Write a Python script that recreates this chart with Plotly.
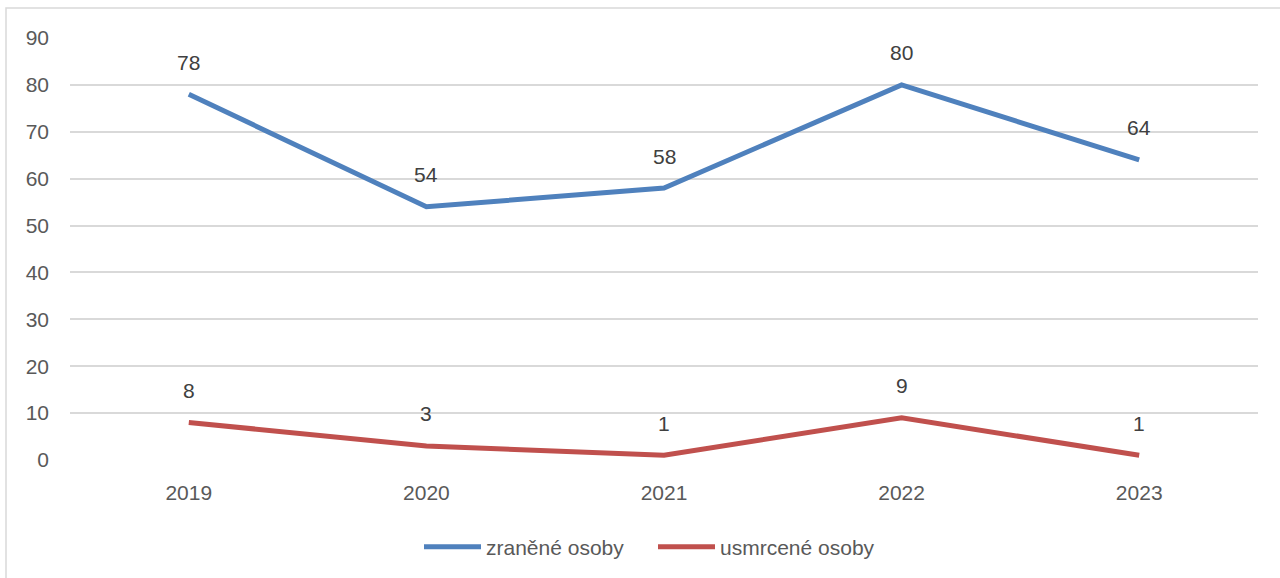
import plotly.graph_objects as go

years = ["2019", "2020", "2021", "2022", "2023"]
zranene = [78, 54, 58, 80, 64]
usmrcene = [8, 3, 1, 9, 1]
series_names = ["zraněné osoby", "usmrcené osoby"]
y_ticks = [0, 10, 20, 30, 40, 50, 60, 70, 80, 90]

BLUE = "#4F81BD"
RED = "#C0504D"
TXT = "#595959"
FONT = "Liberation Sans"
FS = 21

fig = go.Figure()
fig.add_trace(go.Scatter(x=years, y=zranene, mode="lines", name=series_names[0],
                         line=dict(color=BLUE, width=5)))
fig.add_trace(go.Scatter(x=years, y=usmrcene, mode="lines", name=series_names[1],
                         line=dict(color=RED, width=5)))

annotations = []
for series in (zranene, usmrcene):
    for i, v in enumerate(series):
        annotations.append(dict(x=i, xref="x", y=v, yref="y", text=str(v), showarrow=False,
                                yshift=32, xanchor="center", yanchor="middle",
                                font=dict(family=FONT, size=FS, color="#404040")))

L, R, T, B = 70, 22, 38, 117
W, H = 1280, 578
pw, ph = W - L - R, H - T - B

fig.update_layout(
    width=W, height=H,
    margin=dict(l=L, r=R, t=T, b=B),
    paper_bgcolor="white", plot_bgcolor="white",
    font=dict(family=FONT, size=FS, color=TXT),
    xaxis=dict(type="category", range=[-0.5, 4.5], showgrid=False, zeroline=False,
               showline=False, ticks="", ticklabelstandoff=18,
               tickfont=dict(family=FONT, size=FS, color=TXT)),
    yaxis=dict(range=[0, 90], tickvals=y_ticks, showgrid=True, gridcolor="#D9D9D9",
               gridwidth=1.5, zeroline=False, showline=False, ticks="",
               ticklabelstandoff=20, tickfont=dict(family=FONT, size=FS, color=TXT)),
    showlegend=True,
    legend=dict(orientation="h", x=(427 - 8 - L) / pw, xanchor="left", y=(0 - 86) / ph,
                yanchor="middle", font=dict(family=FONT, size=FS, color=TXT), itemwidth=57,
                entrywidth=162, entrywidthmode="pixels",
                tracegroupgap=0, bgcolor="rgba(0,0,0,0)"),
    annotations=annotations,
    shapes=[dict(type="rect", xref="paper", yref="paper",
                 x0=(6 - L) / pw, x1=(W + 4 - L) / pw,
                 y0=-(H + 4 - T - ph) / ph, y1=(ph + T - 8) / ph,
                 line=dict(color="#D9D9D9", width=1.5), layer="below")],
)

fig.write_html("out.html", config={"displayModeBar": False},
               post_script="document.body.style.margin='0';document.body.style.padding='0';")
